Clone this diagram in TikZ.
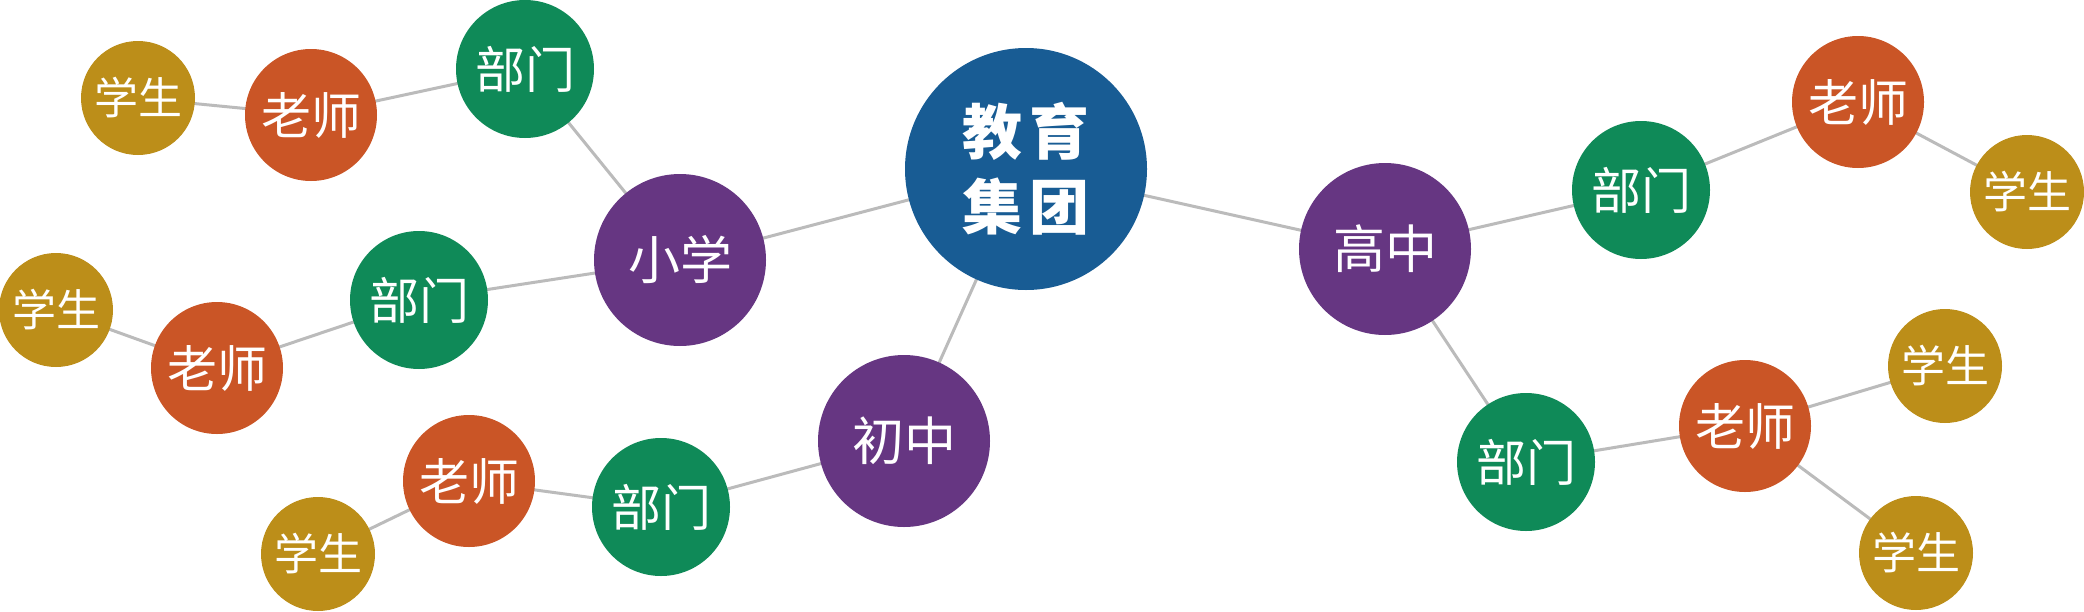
\documentclass[tikz,border=0pt]{standalone}
\usepackage{fontspec}
\newfontfamily\cjk{Noto Sans CJK SC}
\usetikzlibrary{backgrounds}
\definecolor{cblue}{HTML}{185C94}
\definecolor{cpurple}{HTML}{663682}
\definecolor{cgreen}{HTML}{0F8A58}
\definecolor{corange}{HTML}{CA5526}
\definecolor{cgold}{HTML}{BC8E19}
\definecolor{cline}{HTML}{BBBBBB}
\tikzset{
  bub/.style={circle,inner sep=0pt,text=white,font=\cjk},
  hubnode/.style={bub,fill=cblue,minimum size=121pt,font=\cjk\fontsize{30}{37.5}\selectfont\bfseries,align=center},
  schoolnode/.style={bub,fill=cpurple,minimum size=86pt,font=\cjk\fontsize{26}{30}\selectfont},
  deptnode/.style={bub,fill=cgreen,minimum size=69pt,font=\cjk\fontsize{25}{30}\selectfont},
  teachnode/.style={bub,fill=corange,minimum size=66pt,font=\cjk\fontsize{25}{30}\selectfont},
  studnode/.style={bub,fill=cgold,minimum size=57pt,font=\cjk\fontsize{22}{26}\selectfont},
  link/.style={draw=cline,line width=1.5pt}
}
\begin{document}
\begin{tikzpicture}[x=0.5pt,y=-0.5pt]
\useasboundingbox (0,0) rectangle (2084,611);
\node[hubnode] (C) at (1026,169) {教\hspace{4pt}育\\集\hspace{4pt}团};
\node[schoolnode] (X) at (680,260) {小学};
\node[schoolnode] (Z) at (904,441) {初中};
\node[schoolnode] (G) at (1385,249) {高中};
\node[deptnode] (B1) at (525,69) {部门};
\node[teachnode] (T1) at (311,115) {老师};
\node[studnode] (S1) at (138,98) {学生};
\node[deptnode] (B2) at (419,300) {部门};
\node[teachnode] (T2) at (217,368) {老师};
\node[studnode] (S2) at (56,310) {学生};
\node[deptnode] (B3) at (661,507) {部门};
\node[teachnode] (T3) at (469,481) {老师};
\node[studnode] (S3) at (318,554) {学生};
\node[deptnode] (B4) at (1641,190) {部门};
\node[teachnode] (T4) at (1858,102) {老师};
\node[studnode] (S4) at (2027,192) {学生};
\node[deptnode] (B5) at (1526,462) {部门};
\node[teachnode] (T5) at (1745,426) {老师};
\node[studnode] (S5) at (1945,366) {学生};
\node[studnode] (S6) at (1916,553) {学生};
\begin{pgfonlayer}{background}
\draw[link] (C.center) -- (X.center);
\draw[link] (C.center) -- (Z.center);
\draw[link] (C.center) -- (G.center);
\draw[link] (X.center) -- (B1.center);
\draw[link] (X.center) -- (B2.center);
\draw[link] (Z.center) -- (B3.center);
\draw[link] (G.center) -- (B4.center);
\draw[link] (G.center) -- (B5.center);
\draw[link] (B1.center) -- (T1.center);
\draw[link] (T1.center) -- (S1.center);
\draw[link] (B2.center) -- (T2.center);
\draw[link] (T2.center) -- (S2.center);
\draw[link] (B3.center) -- (T3.center);
\draw[link] (T3.center) -- (S3.center);
\draw[link] (B4.center) -- (T4.center);
\draw[link] (T4.center) -- (S4.center);
\draw[link] (B5.center) -- (T5.center);
\draw[link] (T5.center) -- (S5.center);
\draw[link] (T5.center) -- (S6.center);
\end{pgfonlayer}
\end{tikzpicture}
\end{document}
